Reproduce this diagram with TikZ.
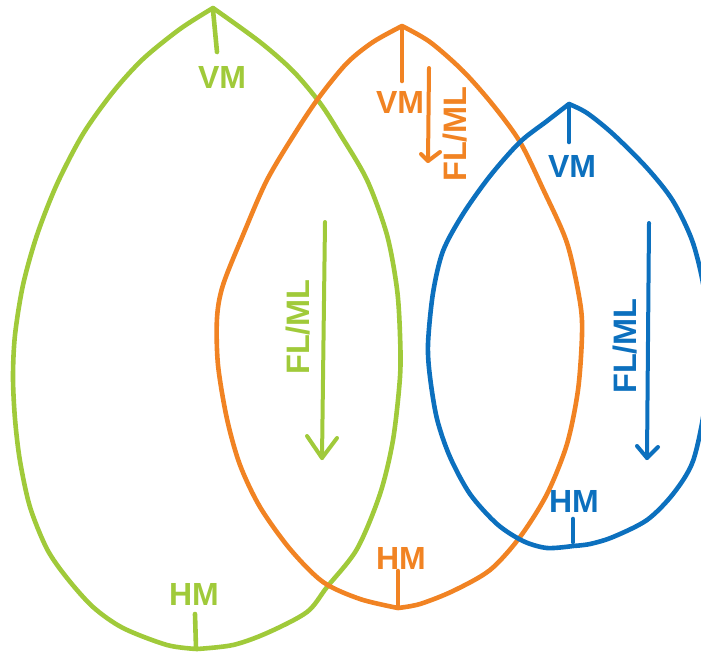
\documentclass[tikz,border=0pt]{standalone}
\usepackage{fontspec}
\setmainfont{Liberation Sans}
\definecolor{lgreen}{RGB}{160,202,58}
\definecolor{lorange}{RGB}{241,131,35}
\definecolor{lblue}{RGB}{12,112,190}
\tikzset{
  leaf/.style={line width=4.6pt, line cap=round, line join=round},
  tick/.style={line width=4.6pt, line cap=round},
  flarrow/.style={line width=4pt, line cap=round, line join=round},
  lab/.style={inner sep=0pt, font=\fontsize{32}{32}\selectfont\bfseries},
  flab/.style={inner sep=0pt, rotate=90, font=\fontsize{32.5}{32.5}\selectfont\bfseries}
}
\begin{document}
\begin{tikzpicture}[x=1pt,y=-1pt]
\useasboundingbox (0,0) rectangle (701,654);
\clip (0,0) rectangle (701,654);
% green leaf
\draw[leaf, lgreen] plot[smooth] coordinates {(213,8) (180,29) (143,59) (113,92) (83,134) (57,184) (37,235) (23,285) (15,335) (13,377) (15,419) (20,461) (30,507) (47,549) (67,578) (93,607) (123,628) (167,645) (197,649)}
  plot[smooth] coordinates {(213,8) (260,42) (293,71) (320,103) (340,134) (367,180) (387,235) (397,289) (400,335) (400,377) (393,440) (380,494) (357,549) (327,587) (307,612) (267,633) (233,645) (197,649)};
% orange leaf
\draw[leaf, lorange] plot[smooth] coordinates {(402,26) (373,42) (347,63) (320,96) (297,130) (267,180) (243,235) (223,285) (217,318) (218,365) (227,419) (240,465) (260,507) (290,549) (323,582) (360,599) (398,608)}
  plot[smooth] coordinates {(402,26) (430,42) (463,71) (493,105) (520,142) (543,189) (567,243) (580,302) (582,335) (578,390) (567,444) (547,494) (520,537) (490,570) (453,591) (420,604) (398,608)};
% blue leaf
\draw[leaf, lblue] plot[smooth] coordinates {(569,104) (547,121) (520,142) (490,176) (463,214) (443,251) (433,293) (428,344) (430,377) (437,419) (450,457) (470,494) (497,524) (523,541) (547,548) (573,546)}
  plot[smooth] coordinates {(569,104) (587,113) (613,134) (647,168) (673,201) (693,243) (705,295) (708,350) (705,405) (693,461) (673,494) (647,520) (613,537) (590,544) (573,546)};
% green marks
\coordinate (gv1) at (213,10); \coordinate (gv2) at (217,52);
\draw[tick, lgreen] (gv1) -- (gv2);
\node[lab, text=lgreen] (gvm) at (222,77.5) {VM};
\node[lab, text=lgreen] (ghm) at (194,594) {HM};
\coordinate (gh1) at (195,614); \coordinate (gh2) at (196,648);
\draw[tick, lgreen] (gh1) -- (gh2);
\coordinate (ga1) at (325,222); \coordinate (ga2) at (322,458);
\coordinate (gc1) at (307,436); \coordinate (gc2) at (337,438);
\draw[flarrow, lgreen] (ga1) -- (ga2);
\draw[flarrow, lgreen] (gc1) -- (ga2) -- (gc2);
\node[flab, text=lgreen] (gfl) at (298,327) {FL/ML};
% orange marks
\coordinate (ov1) at (402,28); \coordinate (ov2) at (402,81);
\draw[tick, lorange] (ov1) -- (ov2);
\node[lab, text=lorange] (ovm) at (400,102.5) {VM};
\node[lab, text=lorange] (ohm) at (401,558) {HM};
\coordinate (oh1) at (398,571); \coordinate (oh2) at (398,607);
\draw[tick, lorange] (oh1) -- (oh2);
\coordinate (oa1) at (429,68); \coordinate (oa2) at (428,161);
\coordinate (oc1) at (421,154); \coordinate (oc2) at (440,152);
\draw[flarrow, lorange] (oa1) -- (oa2);
\draw[flarrow, lorange] (oc1) -- (oa2) -- (oc2);
\node[flab, text=lorange] (ofl) at (455,134) {FL/ML};
% blue marks
\coordinate (bv1) at (569,106); \coordinate (bv2) at (569,142);
\draw[tick, lblue] (bv1) -- (bv2);
\node[lab, text=lblue] (bvm) at (572,166) {VM};
\node[lab, text=lblue] (bhm) at (574,501) {HM};
\coordinate (bh1) at (573,519); \coordinate (bh2) at (573,542);
\draw[tick, lblue] (bh1) -- (bh2);
\coordinate (ba1) at (649,223); \coordinate (ba2) at (647,458);
\coordinate (bc1) at (637,446); \coordinate (bc2) at (658,447);
\draw[flarrow, lblue] (ba1) -- (ba2);
\draw[flarrow, lblue] (bc1) -- (ba2) -- (bc2);
\node[flab, text=lblue] (bfl) at (625,346) {FL/ML};
\end{tikzpicture}
\end{document}
